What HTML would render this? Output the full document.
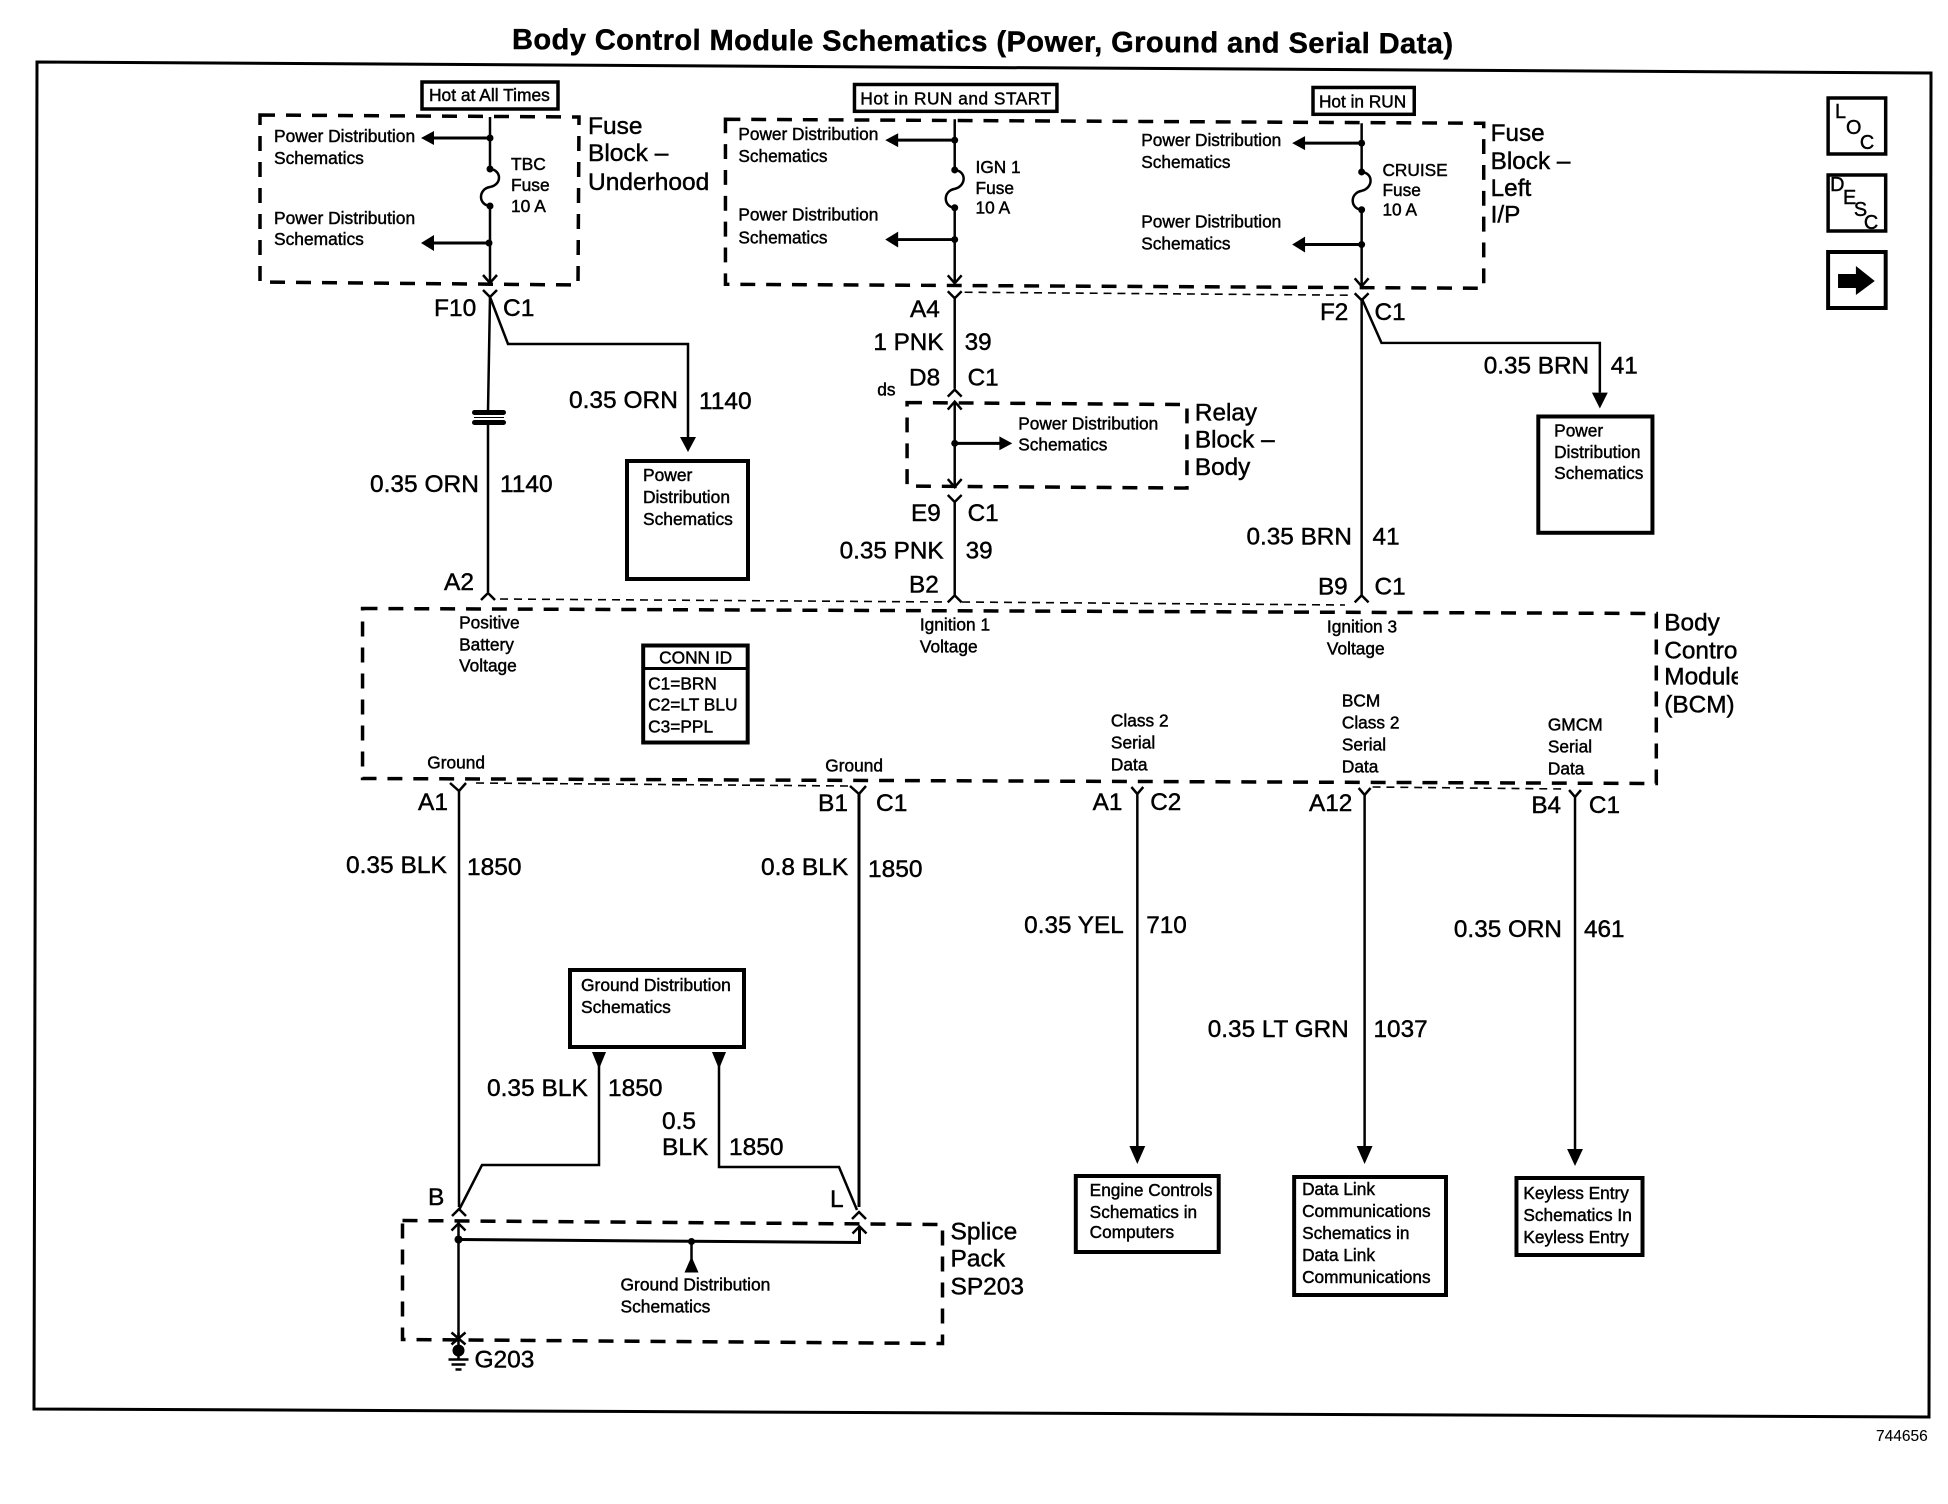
<!DOCTYPE html>
<html>
<head>
<meta charset="utf-8">
<style>
html,body{margin:0;padding:0;background:#fff;}
svg{display:block;}
text{font-family:"Liberation Sans",Arial,sans-serif;fill:#000;stroke:#000;stroke-width:.45;}
.s{font-size:17.4px;}
.m{font-size:24.5px;}
.t{font-size:29px;font-weight:bold;}
path,line,polyline{fill:none;stroke:#000;}
.d{stroke-width:3.5;stroke-dasharray:15 11;}
.th{stroke-width:1.6;stroke-dasharray:8 6;}
.w{stroke-width:2.5;}
.b{stroke-width:4;fill:#fff;stroke:#000;}
polygon,circle{fill:#000;stroke:none;}
</style>
</head>
<body>
<svg width="1948" height="1504" viewBox="0 0 1948 1504" xmlns="http://www.w3.org/2000/svg">
<rect width="1948" height="1504" fill="#fff"/>
<text class="t" x="512" y="49" textLength="941" lengthAdjust="spacing" transform="rotate(.27 512 49)">Body Control Module Schematics (Power, Ground and Serial Data)</text>
<path d="M37 62 L1931 73 L1929 1417 L34 1409 Z" style="stroke-width:3"/>
<path class="th" d="M500 599 L945 602 M962 602 L1345 605"/>

<!-- Upper left: Fuse Block Underhood -->
<g>
<rect class="b" x="422" y="82" width="136" height="27" style="stroke-width:3.5"/>
<text class="s" x="429" y="101">Hot at All Times</text>
<path class="d" d="M260 115 L579 117 L578 285 L260 282 Z"/>
<path class="w" d="M490 117 V169 C502 170 502 185 490 187 C478 189 478 205 490 206 V283"/>
<path class="w" d="M483 275 L490 283 L497 275"/>
<circle cx="490" cy="138" r="3.5"/><circle cx="490" cy="169" r="3.5"/><circle cx="490" cy="206" r="3.5"/><circle cx="489" cy="243" r="3.5"/>
<path d="M430 138 H490 M430 243 H489" style="stroke-width:3"/>
<polygon points="421,138 434,131 434,145"/><polygon points="421,243 434,235 434,251"/>
<text class="s" x="274" y="142">Power Distribution</text><text class="s" x="274" y="164">Schematics</text>
<text class="s" x="274" y="224">Power Distribution</text><text class="s" x="274" y="245">Schematics</text>
<text class="s" x="511" y="170">TBC</text><text class="s" x="511" y="191">Fuse</text><text class="s" x="511" y="212">10 A</text>
<text class="m" x="588" y="134">Fuse</text><text class="m" x="588" y="161">Block –</text><text class="m" x="588" y="190">Underhood</text>
<path class="w" d="M483 290 L490 297 L497 290"/>
<path class="w" d="M490 297 L488 411 M488 425 V592"/>
<path class="w" d="M490 297 L508 344 H688 V440"/>
<polygon points="680,437 696,437 688,452"/>
<rect x="472" y="410" width="34" height="5" rx="2.5" fill="#000"/>
<rect x="472" y="420" width="34" height="5" rx="2.5" fill="#000"/>
<path d="M474 417.5 H504" style="stroke-width:1"/>
<text class="m" x="434" y="316">F10</text><text class="m" x="503" y="316">C1</text>
<text class="m" x="569" y="408">0.35 ORN</text><text class="m" x="699" y="409">1140</text>
<text class="m" x="370" y="492">0.35 ORN</text><text class="m" x="500" y="492">1140</text>
<rect class="b" x="627" y="461" width="121" height="118"/>
<text class="s" x="643" y="481">Power</text><text class="s" x="643" y="503">Distribution</text><text class="s" x="643" y="525">Schematics</text>
<text class="m" x="444" y="590">A2</text>
<path class="w" d="M481 600 L488 593 L495 600"/>
</g>

<!-- Right upper -->
<g transform="matrix(.9925 0 0 .994 3.9 0)">
<rect class="b" x="857" y="85" width="204" height="27" style="stroke-width:3.5"/>
<text class="s" x="863" y="105" textLength="192" lengthAdjust="spacing">Hot in RUN and START</text>
<rect class="b" x="1319" y="88" width="102" height="27" style="stroke-width:3.5"/>
<text class="s" x="1325" y="108">Hot in RUN</text>
<path class="d" d="M727 120 L1491 124 L1491 290 L727 286 Z"/>
<path class="w" d="M958 120 V171 C970 172 970 187 958 190 C946 192 946 208 958 209 V285"/>
<path class="w" d="M951 277 L958 285 L965 277"/>
<circle cx="958" cy="141" r="3.5"/><circle cx="958" cy="171" r="3.5"/><circle cx="958" cy="209" r="3.5"/><circle cx="958" cy="241" r="3.5"/>
<path d="M898 141 H958 M898 241 H958" style="stroke-width:3"/>
<polygon points="888,141 901,134 901,148"/><polygon points="888,241 901,233 901,249"/>
<text class="s" x="740" y="141">Power Distribution</text><text class="s" x="740" y="163">Schematics</text>
<text class="s" x="740" y="222">Power Distribution</text><text class="s" x="740" y="245">Schematics</text>
<text class="s" x="979" y="174">IGN 1</text><text class="s" x="979" y="195">Fuse</text><text class="s" x="979" y="215">10 A</text>

<path class="w" d="M1368 124 V173 C1380 174 1380 189 1368 192 C1356 194 1356 210 1368 211 V288"/>
<path class="w" d="M1361 280 L1368 288 L1375 280"/>
<circle cx="1368" cy="144" r="3.5"/><circle cx="1368" cy="173" r="3.5"/><circle cx="1368" cy="211" r="3.5"/><circle cx="1368" cy="246" r="3.5"/>
<path d="M1308 144 H1368 M1308 246 H1368" style="stroke-width:3"/>
<polygon points="1298,144 1311,137 1311,151"/><polygon points="1298,246 1311,238 1311,254"/>
<text class="s" x="1146" y="147">Power Distribution</text><text class="s" x="1146" y="169">Schematics</text>
<text class="s" x="1146" y="229">Power Distribution</text><text class="s" x="1146" y="251">Schematics</text>
<text class="s" x="1389" y="177">CRUISE</text><text class="s" x="1389" y="197">Fuse</text><text class="s" x="1389" y="217">10 A</text>
<text class="m" x="1498" y="142">Fuse</text><text class="m" x="1498" y="170">Block –</text><text class="m" x="1498" y="197">Left</text><text class="m" x="1498" y="224">I/P</text>
<path class="th" d="M968 294 L1358 297"/>

<path class="w" d="M951 293 L958 300 L965 293"/>
<path class="w" d="M958 298 V391"/>
<path class="w" d="M951 399 L958 392 L965 399"/>
<text class="m" x="913" y="319">A4</text>
<text class="m" x="876" y="352">1 PNK</text><text class="m" x="968" y="352">39</text>
<text class="m" x="912" y="388">D8</text><text class="m" x="971" y="388">C1</text>
<text class="s" x="880" y="398">ds</text>

<path class="d" d="M910 405 L1192 407 L1192 491 L910 489 Z"/>
<path class="w" d="M958 405 V489"/>
<path class="w" d="M951 412 L958 404 L965 412 M951 482 L958 490 L965 482"/>
<circle cx="958" cy="446" r="3.5"/>
<path d="M958 446 H1005" style="stroke-width:3"/>
<polygon points="1016,446 1003,439 1003,453"/>
<text class="s" x="1022" y="432">Power Distribution</text><text class="s" x="1022" y="453">Schematics</text>
<text class="m" x="1200" y="423">Relay</text><text class="m" x="1200" y="450">Block –</text><text class="m" x="1200" y="478">Body</text>
<path class="w" d="M951 498 L958 505 L965 498"/>
<path class="w" d="M958 505 V600"/>
<path class="w" d="M951 606 L958 599 L965 606"/>
<text class="m" x="914" y="524">E9</text><text class="m" x="971" y="524">C1</text>
<text class="m" x="842" y="562">0.35 PNK</text><text class="m" x="969" y="562">39</text>
<text class="m" x="912" y="596">B2</text>

<path class="w" d="M1361 295 L1368 302 L1375 295"/>
<path class="w" d="M1368 300 V600"/>
<path class="w" d="M1361 606 L1368 599 L1375 606"/>
<path class="w" d="M1368 300 L1388 345 H1608 V395"/>
<polygon points="1600,395 1616,395 1608,411"/>
<text class="m" x="1326" y="322">F2</text><text class="m" x="1381" y="322">C1</text>
<text class="m" x="1491" y="376">0.35 BRN</text><text class="m" x="1619" y="376">41</text>
<rect class="b" x="1546" y="419" width="115" height="117"/>
<text class="s" x="1562" y="439">Power</text><text class="s" x="1562" y="461">Distribution</text><text class="s" x="1562" y="482">Schematics</text>
<text class="m" x="1252" y="548">0.35 BRN</text><text class="m" x="1379" y="548">41</text>
<text class="m" x="1324" y="598">B9</text><text class="m" x="1381" y="598">C1</text>
</g>

<!-- Icons -->
<g transform="matrix(.9925 0 0 1 3.9 0)">
<rect x="1838" y="98" width="58" height="56" fill="#fff" stroke="#000" stroke-width="3.5"/>
<text x="1845" y="118" style="font-size:20px">L</text><text x="1856" y="134" style="font-size:20px">O</text><text x="1870" y="149" style="font-size:20px">C</text>
<rect x="1838" y="175" width="58" height="56" fill="#fff" stroke="#000" stroke-width="3.5"/>
<text x="1840" y="191" style="font-size:20px">D</text><text x="1853" y="204" style="font-size:20px">E</text><text x="1864" y="216" style="font-size:20px">S</text><text x="1874" y="229" style="font-size:20px">C</text>
<rect x="1838" y="252" width="58" height="56" fill="#fff" stroke="#000" stroke-width="4"/>
<polygon points="1848,274 1866,274 1866,266 1885,281 1866,295 1866,288 1848,288"/>
</g>

<!-- BCM -->
<g transform="matrix(.9952 0 0 1 -.7 -3.5)">
<path class="d" d="M365 612 L1665 617 L1665 787 L365 782 Z"/>
<text class="s" x="462" y="632">Positive</text><text class="s" x="462" y="654">Battery</text><text class="s" x="462" y="675">Voltage</text>
<text class="s" x="925" y="634">Ignition 1</text><text class="s" x="925" y="656">Voltage</text>
<text class="s" x="1334" y="636">Ignition 3</text><text class="s" x="1334" y="658">Voltage</text>
<text class="s" x="1117" y="730">Class 2</text><text class="s" x="1117" y="752">Serial</text><text class="s" x="1117" y="774">Data</text>
<text class="s" x="1349" y="710">BCM</text><text class="s" x="1349" y="732">Class 2</text><text class="s" x="1349" y="754">Serial</text><text class="s" x="1349" y="776">Data</text>
<text class="s" x="1556" y="734">GMCM</text><text class="s" x="1556" y="756">Serial</text><text class="s" x="1556" y="778">Data</text>
<text class="s" x="430" y="772">Ground</text><text class="s" x="830" y="775">Ground</text>
<rect class="b" x="647" y="649" width="105" height="97"/>
<path d="M647 672 H752" style="stroke-width:3"/>
<text class="s" x="663" y="667">CONN ID</text>
<text class="s" x="652" y="693">C1=BRN</text><text class="s" x="652" y="714">C2=LT BLU</text><text class="s" x="652" y="736">C3=PPL</text>
<text class="m" x="1673" y="634">Body</text><text class="m" x="1673" y="662">Control</text><text class="m" x="1673" y="688">Module</text><text class="m" x="1673" y="716">(BCM)</text>
<rect x="1747" y="640" width="24" height="60" fill="#fff"/>
</g>

<!-- Lower right -->
<g transform="matrix(.9925 0 0 1 2.9 -6)">
<path class="th" d="M1380 793 L1573 795"/>
<path class="w" d="M1137 793 L1143 800 L1149 793 M1143 800 V1155"/>
<polygon points="1135,1152 1151,1152 1143,1170"/>
<text class="m" x="1098" y="816">A1</text><text class="m" x="1156" y="816">C2</text>
<text class="m" x="1029" y="939">0.35 YEL</text><text class="m" x="1152" y="939">710</text>
<rect class="b" x="1081" y="1182" width="144" height="76"/>
<text class="s" x="1095" y="1202">Engine Controls</text><text class="s" x="1095" y="1224">Schematics in</text><text class="s" x="1095" y="1244">Computers</text>
<path class="w" d="M1366 794 L1372 801 L1378 794 M1372 801 V1155"/>
<polygon points="1364,1152 1380,1152 1372,1170"/>
<text class="m" x="1316" y="817">A12</text>
<text class="m" x="1214" y="1043">0.35 LT GRN</text><text class="m" x="1381" y="1043">1037</text>
<rect class="b" x="1301" y="1183" width="153" height="118"/>
<text class="s" x="1309" y="1201">Data Link</text><text class="s" x="1309" y="1223">Communications</text><text class="s" x="1309" y="1245">Schematics in</text><text class="s" x="1309" y="1267">Data Link</text><text class="s" x="1309" y="1289">Communications</text>
<path class="w" d="M1578 796 L1584 803 L1590 796 M1584 803 V1155"/>
<polygon points="1576,1155 1592,1155 1584,1172"/>
<text class="m" x="1540" y="819">B4</text><text class="m" x="1598" y="819">C1</text>
<text class="m" x="1462" y="943">0.35 ORN</text><text class="m" x="1593" y="943">461</text>
<rect class="b" x="1525" y="1184" width="127" height="77"/>
<text class="s" x="1532" y="1205">Keyless Entry</text><text class="s" x="1532" y="1227">Schematics In</text><text class="s" x="1532" y="1249">Keyless Entry</text>
</g>
<text x="1876" y="1441" style="font-size:15.5px;stroke-width:.1">744656</text>

<!-- Lower left -->
<g transform="translate(-2 -6)">
<path class="th" d="M478 789 L850 792"/>
<path class="w" d="M452 789 L461 797 L468 789"/>
<path class="w" d="M461 796 V1213"/>
<path class="w" d="M852 792 L861 800 L868 792"/>
<path style="stroke-width:3" d="M861 799 V1213"/>
<text class="m" x="420" y="816">A1</text>
<text class="m" x="820" y="817">B1</text><text class="m" x="878" y="817">C1</text>
<text class="m" x="348" y="879">0.35 BLK</text><text class="m" x="469" y="881">1850</text>
<text class="m" x="763" y="881">0.8 BLK</text><text class="m" x="870" y="883">1850</text>
<rect class="b" x="572" y="976" width="174" height="77"/>
<text class="s" x="583" y="997">Ground Distribution</text><text class="s" x="583" y="1019">Schematics</text>
<polygon points="594,1058 608,1058 601,1075"/><polygon points="714,1058 728,1058 721,1075"/>
<path class="w" d="M601 1070 V1171 H484 L461 1216"/>
<path class="w" d="M721 1070 V1173 H841 L859 1216"/>
<text class="m" x="489" y="1102">0.35 BLK</text><text class="m" x="610" y="1102">1850</text>
<text class="m" x="664" y="1135">0.5</text><text class="m" x="664" y="1161">BLK</text><text class="m" x="731" y="1161">1850</text>
<text class="m" x="430" y="1211">B</text><text class="m" x="832" y="1213">L</text>
<path class="w" d="M454 1222 L461 1215 L468 1222 M854 1225 L861 1218 L868 1225"/>
</g>

<!-- Splice pack -->
<g transform="translate(-2.5 -7.5)">
<path class="d" d="M405 1228 L945 1232 L945 1351 L405 1347 Z"/>
<path class="w" d="M461 1230 V1344"/>
<path class="w" d="M454 1238 L461 1231 L468 1238 M855 1241 L862 1234 L869 1241"/>
<path style="stroke-width:3" d="M461 1247 L862 1250 V1234"/>
<circle cx="461" cy="1247" r="4"/><circle cx="694" cy="1249" r="3.5"/>
<path class="w" d="M694 1249 V1268"/>
<polygon points="687,1280 701,1280 694,1264"/>
<text class="s" x="623" y="1298">Ground Distribution</text><text class="s" x="623" y="1320">Schematics</text>
<text class="m" x="953" y="1247">Splice</text><text class="m" x="953" y="1274">Pack</text><text class="m" x="953" y="1302">SP203</text>
<path class="w" d="M454 1340 L468 1352 M468 1340 L454 1352 M461 1340 V1368"/>
<circle cx="461" cy="1358" r="6"/>
<path class="w" d="M451 1367 H471 M454 1372 H468 M458 1377 H464"/>
<text class="m" x="477" y="1375">G203</text>
</g>
</svg>
</body>
</html>
